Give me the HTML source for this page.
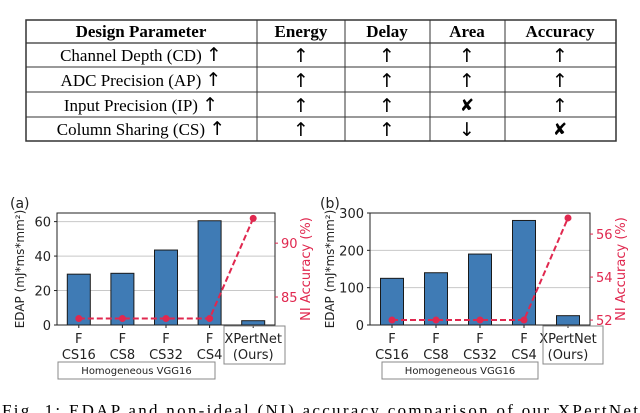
<!DOCTYPE html>
<html><head><meta charset="utf-8"><style>
html,body{margin:0;padding:0;background:#fff;width:640px;height:413px;overflow:hidden}
svg{display:block}
.tb{font-family:"Liberation Serif",serif;font-size:17px;fill:#000}
.ar{font-family:"DejaVu Sans",sans-serif;font-size:19px;font-weight:normal}
.ax{font-family:"DejaVu Sans",sans-serif;font-size:13px;fill:#222}
.rd{font-family:"DejaVu Sans",sans-serif;font-size:13px;fill:#e0284f}
</style></head><body>
<svg id="root" width="640" height="413" viewBox="0 0 640 413">
<g>
<rect x="26" y="20" width="590" height="121" fill="none" stroke="#333" stroke-width="1.5"/>
<line x1="26" y1="43" x2="616" y2="43" stroke="#333" stroke-width="1.2"/>
<line x1="26" y1="67" x2="616" y2="67" stroke="#333"/>
<line x1="26" y1="92" x2="616" y2="92" stroke="#333"/>
<line x1="26" y1="117" x2="616" y2="117" stroke="#333"/>
<line x1="257" y1="20" x2="257" y2="141" stroke="#333"/>
<line x1="345" y1="20" x2="345" y2="141" stroke="#333"/>
<line x1="430" y1="20" x2="430" y2="141" stroke="#333"/>
<line x1="505" y1="20" x2="505" y2="141" stroke="#333"/>
<g class="tb" text-anchor="middle" font-weight="bold">
<text x="141" y="37">Design Parameter</text><text x="301" y="37">Energy</text><text x="387" y="37">Delay</text><text x="467" y="37">Area</text><text x="560" y="37">Accuracy</text>
</g>
<g class="tb" text-anchor="middle">
<text x="141" y="61">Channel Depth (CD) <tspan class="ar">↑</tspan></text><text class="tb ar" x="301" y="62">↑</text><text class="tb ar" x="387" y="62">↑</text><text class="tb ar" x="467" y="62">↑</text><text class="tb ar" x="560" y="62">↑</text>
<text x="141" y="86">ADC Precision (AP) <tspan class="ar">↑</tspan></text><text class="tb ar" x="301" y="87">↑</text><text class="tb ar" x="387" y="87">↑</text><text class="tb ar" x="467" y="87">↑</text><text class="tb ar" x="560" y="87">↑</text>
<text x="141" y="111">Input Precision (IP) <tspan class="ar">↑</tspan></text><text class="tb ar" x="301" y="112">↑</text><text class="tb ar" x="387" y="112">↑</text><text x="467" y="111" font-weight="bold" font-family="DejaVu Sans">✘</text><text class="tb ar" x="560" y="112">↑</text>
<text x="141" y="135">Column Sharing (CS) <tspan class="ar">↑</tspan></text><text class="tb ar" x="301" y="136">↑</text><text class="tb ar" x="387" y="136">↑</text><text class="tb ar" x="467" y="136">↓</text><text x="560" y="135" font-weight="bold" font-family="DejaVu Sans">✘</text>
</g>
</g>
<g id="chartA"></g>
<g id="chartB"></g>
<text class="tb" x="2" y="416" textLength="636" lengthAdjust="spacing">Fig. 1: EDAP and non-ideal (NI) accuracy comparison of our XPertNet</text>
</svg>
<script>
const categoriesTop = ["F","F","F","F","XPertNet"];
const categoriesBottom = ["CS16","CS8","CS32","CS4","(Ours)"];
const edapA = [29.5, 30, 43.5, 60.5, 2.5];
const accA = [83.0, 83.0, 83.0, 83.0, 92.3];
const leftTicksA = [0, 20, 40, 60];
const rightTicksA = [85, 90];
const edapB = [125, 140, 190, 280, 25];
const accB = [52.0, 52.0, 52.0, 52.0, 56.75];
const leftTicksB = [0, 100, 200, 300];
const rightTicksB = [52, 54, 56];

const NS="http://www.w3.org/2000/svg";
function mk(p,tag,a,txt){const e=document.createElementNS(NS,tag);for(const k in a)e.setAttribute(k,a[k]);if(txt!==undefined)e.textContent=txt;p.appendChild(e);return e;}

function draw(g,cfg){
  const {x0,x1,y0,y1,lmax,rmin,rmax,edap,acc,lt,rt,label,lx,hom,xp}=cfg;
  const n=edap.length, step=(x1-x0)/n;
  const xs=i=>x0+step*(i+0.5);
  const yl=v=>y1-(v/lmax)*(y1-y0);
  const yr=v=>y1-((v-rmin)/(rmax-rmin))*(y1-y0);
  lt.forEach(t=>{ if(t>0&&t<lmax){const l=mk(g,"line",{x1:x0,x2:x1,y1:yl(t),y2:yl(t),stroke:"#c8c8c8","stroke-width":1});
    
    }
    const tx=mk(g,"text",{class:"ax",x:x0-6,y:yl(t)+5,"text-anchor":"end"},String(t));
    
    
    mk(g,"line",{x1:x0-3,x2:x0,y1:yl(t),y2:yl(t),stroke:"#222"});
  });
  edap.forEach((v,i)=>{
    const r=mk(g,"rect",{x:xs(i)-11.5,y:yl(v),width:23,height:y1-yl(v),fill:"#3f7bb5",stroke:"#1a1a1a","stroke-width":1});
    
    
  });
  mk(g,"rect",{x:x0,y:y0,width:x1-x0,height:y1-y0,fill:"none",stroke:"#222","stroke-width":1});
  rt.forEach(t=>{
    mk(g,"line",{x1:x1,x2:x1+3,y1:yr(t),y2:yr(t),stroke:"#e0284f"});
    const tx=mk(g,"text",{class:"rd",x:x1+6,y:yr(t)+5},String(t));
    
    
  });
  const pts=acc.map((v,i)=>xs(i)+","+yr(v)).join(" ");
  const pl=mk(g,"polyline",{points:pts,fill:"none",stroke:"#e0284f","stroke-width":2,"stroke-dasharray":"6,3"});
  
  
  acc.forEach((v,i)=>{
    const c=mk(g,"circle",{cx:xs(i),cy:yr(v),r:3.5,fill:"#e0284f"});
    
    
  });
  categoriesTop.forEach((c,i)=>{
    mk(g,"line",{x1:xs(i),x2:xs(i),y1:y1,y2:y1+3,stroke:"#222"});
    const a=mk(g,"text",{class:"ax",x:xs(i),y:343,"text-anchor":"middle"},c);
    
    
    const b=mk(g,"text",{class:"ax",x:xs(i),y:359,"text-anchor":"middle"},categoriesBottom[i]);
    
    
  });
  const xb=mk(g,"rect",{x:xp[0],y:326,width:xp[1]-xp[0],height:38,fill:"none",stroke:"#888"});
  
  
  const hb=mk(g,"rect",{x:hom[0],y:362,width:hom[1]-hom[0],height:17,fill:"none",stroke:"#888"});
  
  
  const ht=mk(g,"text",{class:"ax",x:(hom[0]+hom[1])/2,y:374,"text-anchor":"middle",style:"font-size:10px"},"Homogeneous VGG16");
  
  
  const yt=mk(g,"text",{class:"ax",transform:`translate(${lx},${(y0+y1)/2}) rotate(-90)`,"text-anchor":"middle",style:"font-size:12px"},"EDAP (mJ*ms*mm²)");
  
  
  const rt2=mk(g,"text",{class:"rd",transform:`translate(${x1+35},${(y0+y1)/2}) rotate(-90)`,"text-anchor":"middle"},"NI Accuracy (%)");
  
  
  const pl2=mk(g,"text",{class:"ax",style:"font-size:14px",x:label[0],y:label[1]},label[2]);
  
  
}
draw(document.getElementById("chartA"),{x0:57,x1:275,y0:213,y1:325,lmax:65,rmin:82.4,rmax:92.8,edap:edapA,acc:accA,lt:leftTicksA,rt:rightTicksA,label:[10,208,"(a)"],lx:24,hom:[58,215],xp:[224,285]});
draw(document.getElementById("chartB"),{x0:370,x1:590,y0:213,y1:325,lmax:300,rmin:51.77,rmax:56.98,edap:edapB,acc:accB,lt:leftTicksB,rt:rightTicksB,label:[320,208,"(b)"],lx:334,hom:[382,538],xp:[543,603]});
</script>
</body></html>
